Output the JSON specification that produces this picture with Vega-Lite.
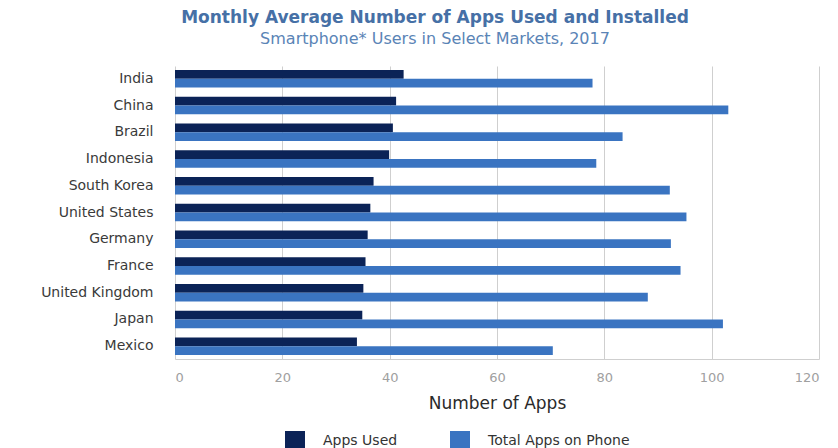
{
  "$schema": "https://vega.github.io/schema/vega-lite/v6.json",
  "autosize": "none",
  "width": 644,
  "height": 293,
  "padding": {"left": 175, "top": 66, "right": 19, "bottom": 89},
  "background": "white",
  "title": {
    "text": "Monthly Average Number of Apps Used and Installed",
    "subtitle": "Smartphone* Users in Select Markets, 2017",
    "anchor": "middle",
    "dx": -62,
    "offset": 18,
    "font": "DejaVu Sans",
    "fontSize": 17,
    "fontWeight": 600,
    "color": "#4670a6",
    "subtitleFont": "DejaVu Sans",
    "subtitleFontSize": 16,
    "subtitleColor": "#5a84b6",
    "subtitlePadding": 4
  },
  "data": {
    "values": [
      {"country": "India", "series": "Apps Used", "value": 42.6},
      {"country": "India", "series": "Total Apps on Phone", "value": 77.8},
      {"country": "China", "series": "Apps Used", "value": 41.2},
      {"country": "China", "series": "Total Apps on Phone", "value": 103.1},
      {"country": "Brazil", "series": "Apps Used", "value": 40.6},
      {"country": "Brazil", "series": "Total Apps on Phone", "value": 83.4},
      {"country": "Indonesia", "series": "Apps Used", "value": 39.9},
      {"country": "Indonesia", "series": "Total Apps on Phone", "value": 78.5},
      {"country": "South Korea", "series": "Apps Used", "value": 37.0},
      {"country": "South Korea", "series": "Total Apps on Phone", "value": 92.2},
      {"country": "United States", "series": "Apps Used", "value": 36.4},
      {"country": "United States", "series": "Total Apps on Phone", "value": 95.3},
      {"country": "Germany", "series": "Apps Used", "value": 35.9},
      {"country": "Germany", "series": "Total Apps on Phone", "value": 92.4},
      {"country": "France", "series": "Apps Used", "value": 35.5},
      {"country": "France", "series": "Total Apps on Phone", "value": 94.2},
      {"country": "United Kingdom", "series": "Apps Used", "value": 35.1},
      {"country": "United Kingdom", "series": "Total Apps on Phone", "value": 88.1},
      {"country": "Japan", "series": "Apps Used", "value": 34.9},
      {"country": "Japan", "series": "Total Apps on Phone", "value": 102.1},
      {"country": "Mexico", "series": "Apps Used", "value": 33.9},
      {"country": "Mexico", "series": "Total Apps on Phone", "value": 70.4}
    ]
  },
  "mark": {"type": "bar"},
  "encoding": {
    "y": {
      "field": "country",
      "type": "nominal",
      "sort": ["India", "China", "Brazil", "Indonesia", "South Korea", "United States", "Germany", "France", "United Kingdom", "Japan", "Mexico"],
      "scale": {"paddingInner": 0.345, "paddingOuter": 0.15},
      "axis": {
        "title": null,
        "domain": false,
        "ticks": false,
        "labelPadding": 22,
        "labelFont": "DejaVu Sans",
        "labelFontSize": 14,
        "labelColor": "#3a3a3a"
      }
    },
    "yOffset": {
      "field": "series",
      "type": "nominal",
      "sort": ["Apps Used", "Total Apps on Phone"]
    },
    "x": {
      "field": "value",
      "type": "quantitative",
      "scale": {"domain": [0, 120], "nice": false},
      "axis": {
        "title": "Number of Apps",
        "values": [0, 20, 40, 60, 80, 100, 120],
        "grid": true,
        "gridColor": "#cfcfcf",
        "gridWidth": 1,
        "domain": true,
        "domainColor": "#cfcfcf",
        "ticks": false,
        "labelPadding": 12,
        "labelFont": "DejaVu Sans",
        "labelFontSize": 13,
        "labelColor": "#a0a0a0",
        "titleFont": "DejaVu Sans",
        "titleFontSize": 17,
        "titleFontWeight": 500,
        "titleColor": "#2a2a2a",
        "titlePadding": 11
      }
    },
    "color": {
      "field": "series",
      "type": "nominal",
      "sort": ["Apps Used", "Total Apps on Phone"],
      "scale": {"domain": ["Apps Used", "Total Apps on Phone"], "range": ["#0b2357", "#3a74c1"]},
      "legend": {
        "title": null,
        "orient": "none",
        "direction": "horizontal",
        "legendX": 110,
        "legendY": 365,
        "symbolType": "square",
        "symbolSize": 400,
        "symbolStrokeWidth": 0,
        "labelOffset": 18,
        "columnPadding": 52,
        "padding": 0,
        "labelFont": "DejaVu Sans",
        "labelFontSize": 14,
        "labelColor": "#333333"
      }
    }
  },
  "config": {
    "view": {"stroke": null}
  }
}
